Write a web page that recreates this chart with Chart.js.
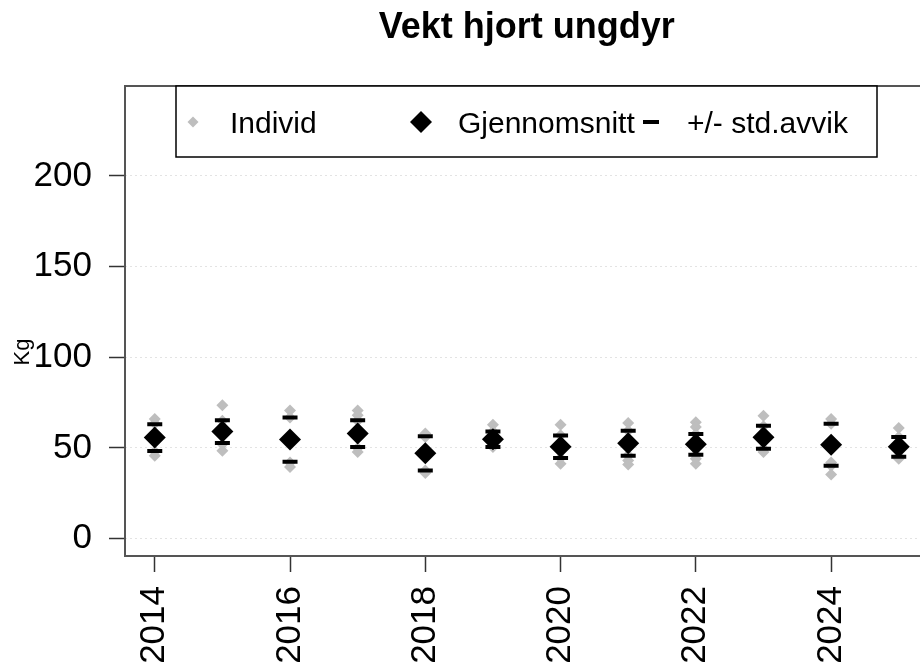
<!DOCTYPE html>
<html>
<head>
<meta charset="utf-8">
<script src="https://cdn.jsdelivr.net/npm/chart.js@4.4.0/dist/chart.umd.min.js"></script>
<style>
  html, body { margin: 0; padding: 0; overflow: hidden; background: #fff; }
  #wrap { width: 940px; height: 671px; }
</style>
</head>
<body>
<div id="wrap"><canvas id="myChart" width="940" height="671"></canvas></div>
<script>
var years = [2014, 2015, 2016, 2017, 2018, 2019, 2020, 2021, 2022, 2023, 2024, 2025];
var meanKg = [55.7, 59.0, 54.6, 57.9, 47.0, 54.8, 50.6, 52.6, 52.0, 55.9, 51.8, 50.6];
var sdKg = [7.4, 6.3, 12.2, 7.4, 9.4, 4.3, 6.2, 6.9, 5.7, 6.4, 11.6, 5.4];
var individKg = [
  [66, 63.5, 57, 55, 54, 48, 45.7],
  [73.5, 65, 60, 58, 57, 52, 48.5],
  [70.7, 66.8, 56, 54, 53, 42, 39.5],
  [70.7, 68, 65, 59, 57, 50, 47.8],
  [57.9, 56, 48, 47, 46, 37.5, 36.2],
  [62.8, 59, 56, 55, 54, 52, 50.5],
  [62.8, 57, 52, 51, 50, 44.5, 41.3],
  [63.7, 59.5, 54, 53, 52, 46, 43, 40.8],
  [64.1, 61.5, 57.7, 53, 52, 51, 46.3, 44, 41.3],
  [67.8, 62, 57, 56, 55, 49.6, 47.8],
  [66, 63.4, 54, 52, 50, 41.9, 40.2, 35.3],
  [61, 56, 52, 51, 50, 45.3, 44]
];
var xTicks = [2014, 2016, 2018, 2020, 2022, 2024];
var yTicks = [0, 50, 100, 150, 200];
var labels = ['Individ', 'Gjennomsnitt', '+/- std.avvik'];

var FONT = '"Liberation Sans", Arial, sans-serif';
var GREY = '#bebebe';

var individPts = [];
var meanPts = [];
var sdPts = [];
years.forEach(function (yr, i) {
  individKg[i].forEach(function (v) { individPts.push({ x: yr, y: v }); });
  meanPts.push({ x: yr, y: meanKg[i] });
  sdPts.push({ x: yr, y: meanKg[i] + sdKg[i] });
  sdPts.push({ x: yr, y: meanKg[i] - sdKg[i] });
});

// frame, legend box, title and y label drawn by hand (R style)
var decorations = {
  id: 'decorations',
  afterDraw: function (chart) {
    var ctx = chart.ctx;
    var a = chart.chartArea;
    ctx.save();

    ctx.strokeStyle = '#555';
    ctx.lineWidth = 2;
    ctx.strokeRect(a.left, a.top, a.right - a.left, a.bottom - a.top);

    // legend
    ctx.fillStyle = '#fff';
    ctx.fillRect(176, a.top, 701, 71);
    ctx.strokeStyle = '#000';
    ctx.lineWidth = 1.5;
    ctx.strokeRect(176, a.top, 701, 71);

    var ly = 122;
    ctx.fillStyle = GREY;
    Chart.helpers.drawPoint(ctx, { pointStyle: 'rectRot', radius: 5.5, borderWidth: 0 }, 193, ly);
    ctx.fillStyle = '#000';
    Chart.helpers.drawPoint(ctx, { pointStyle: 'rectRot', radius: 11, borderWidth: 0 }, 421, ly);
    ctx.strokeStyle = '#000';
    ctx.lineWidth = 4;
    Chart.helpers.drawPoint(ctx, { pointStyle: 'line', radius: 8, borderWidth: 4 }, 651, ly);

    ctx.font = '30px ' + FONT;
    ctx.textBaseline = 'alphabetic';
    ctx.textAlign = 'left';
    ctx.fillText(labels[0], 230, 133);
    ctx.fillText(labels[1], 458, 133);
    ctx.fillText(labels[2], 687, 133);

    // title
    ctx.font = 'bold 36px ' + FONT;
    ctx.textAlign = 'center';
    ctx.fillText('Vekt hjort ungdyr', (a.left + a.right) / 2, 38);

    // y label
    ctx.translate(29, 352);
    ctx.rotate(-Math.PI / 2);
    ctx.font = '22px ' + FONT;
    ctx.fillText('Kg', 0, 0);

    ctx.restore();
  }
};

var chart = new Chart(document.getElementById('myChart').getContext('2d'), {
  type: 'scatter',
  data: {
    datasets: [
      {
        label: labels[1],
        data: meanPts,
        order: 0,
        pointStyle: 'rectRot',
        pointRadius: 11,
        pointBackgroundColor: '#000',
        pointBorderWidth: 0
      },
      {
        label: labels[2],
        data: sdPts,
        order: 1,
        pointStyle: 'line',
        pointRadius: 7.5,
        pointBorderColor: '#000',
        pointBorderWidth: 4
      },
      {
        label: labels[0],
        data: individPts,
        order: 2,
        pointStyle: 'rectRot',
        pointRadius: 6,
        pointBackgroundColor: GREY,
        pointBorderWidth: 0
      }
    ]
  },
  options: {
    responsive: false,
    animation: false,
    events: [],
    layout: { padding: { top: 86, right: 11, left: 0, bottom: 0 } },
    plugins: {
      legend: { display: false },
      tooltip: { enabled: false },
      title: { display: false }
    },
    scales: {
      x: {
        type: 'linear',
        min: 2013.56,
        max: 2025.44,
        afterFit: function (s) { s.height = 115; },
        afterBuildTicks: function (s) { s.ticks = xTicks.map(function (v) { return { value: v }; }); },
        border: { display: false },
        grid: { drawOnChartArea: false, drawTicks: true, tickLength: 16, tickColor: '#333', tickWidth: 1.5 },
        ticks: {
          autoSkip: false,
          minRotation: 90,
          maxRotation: 90,
          padding: 14,
          color: '#000',
          font: { family: FONT, size: 35 },
          callback: function (v) { return String(v); }
        }
      },
      y: {
        min: -9.6,
        max: 249.6,
        afterFit: function (s) { s.width = 125; },
        afterBuildTicks: function (s) { s.ticks = yTicks.map(function (v) { return { value: v }; }); },
        border: { display: false, dash: [2, 3] },
        grid: { color: '#e3e3e3', lineWidth: 1, drawTicks: true, tickLength: 16, tickColor: '#333', tickWidth: 1.5, tickBorderDash: [] },
        ticks: {
          padding: 17,
          color: '#000',
          font: { family: FONT, size: 35 }
        }
      }
    }
  },
  plugins: [decorations]
});
</script>
</body>
</html>
